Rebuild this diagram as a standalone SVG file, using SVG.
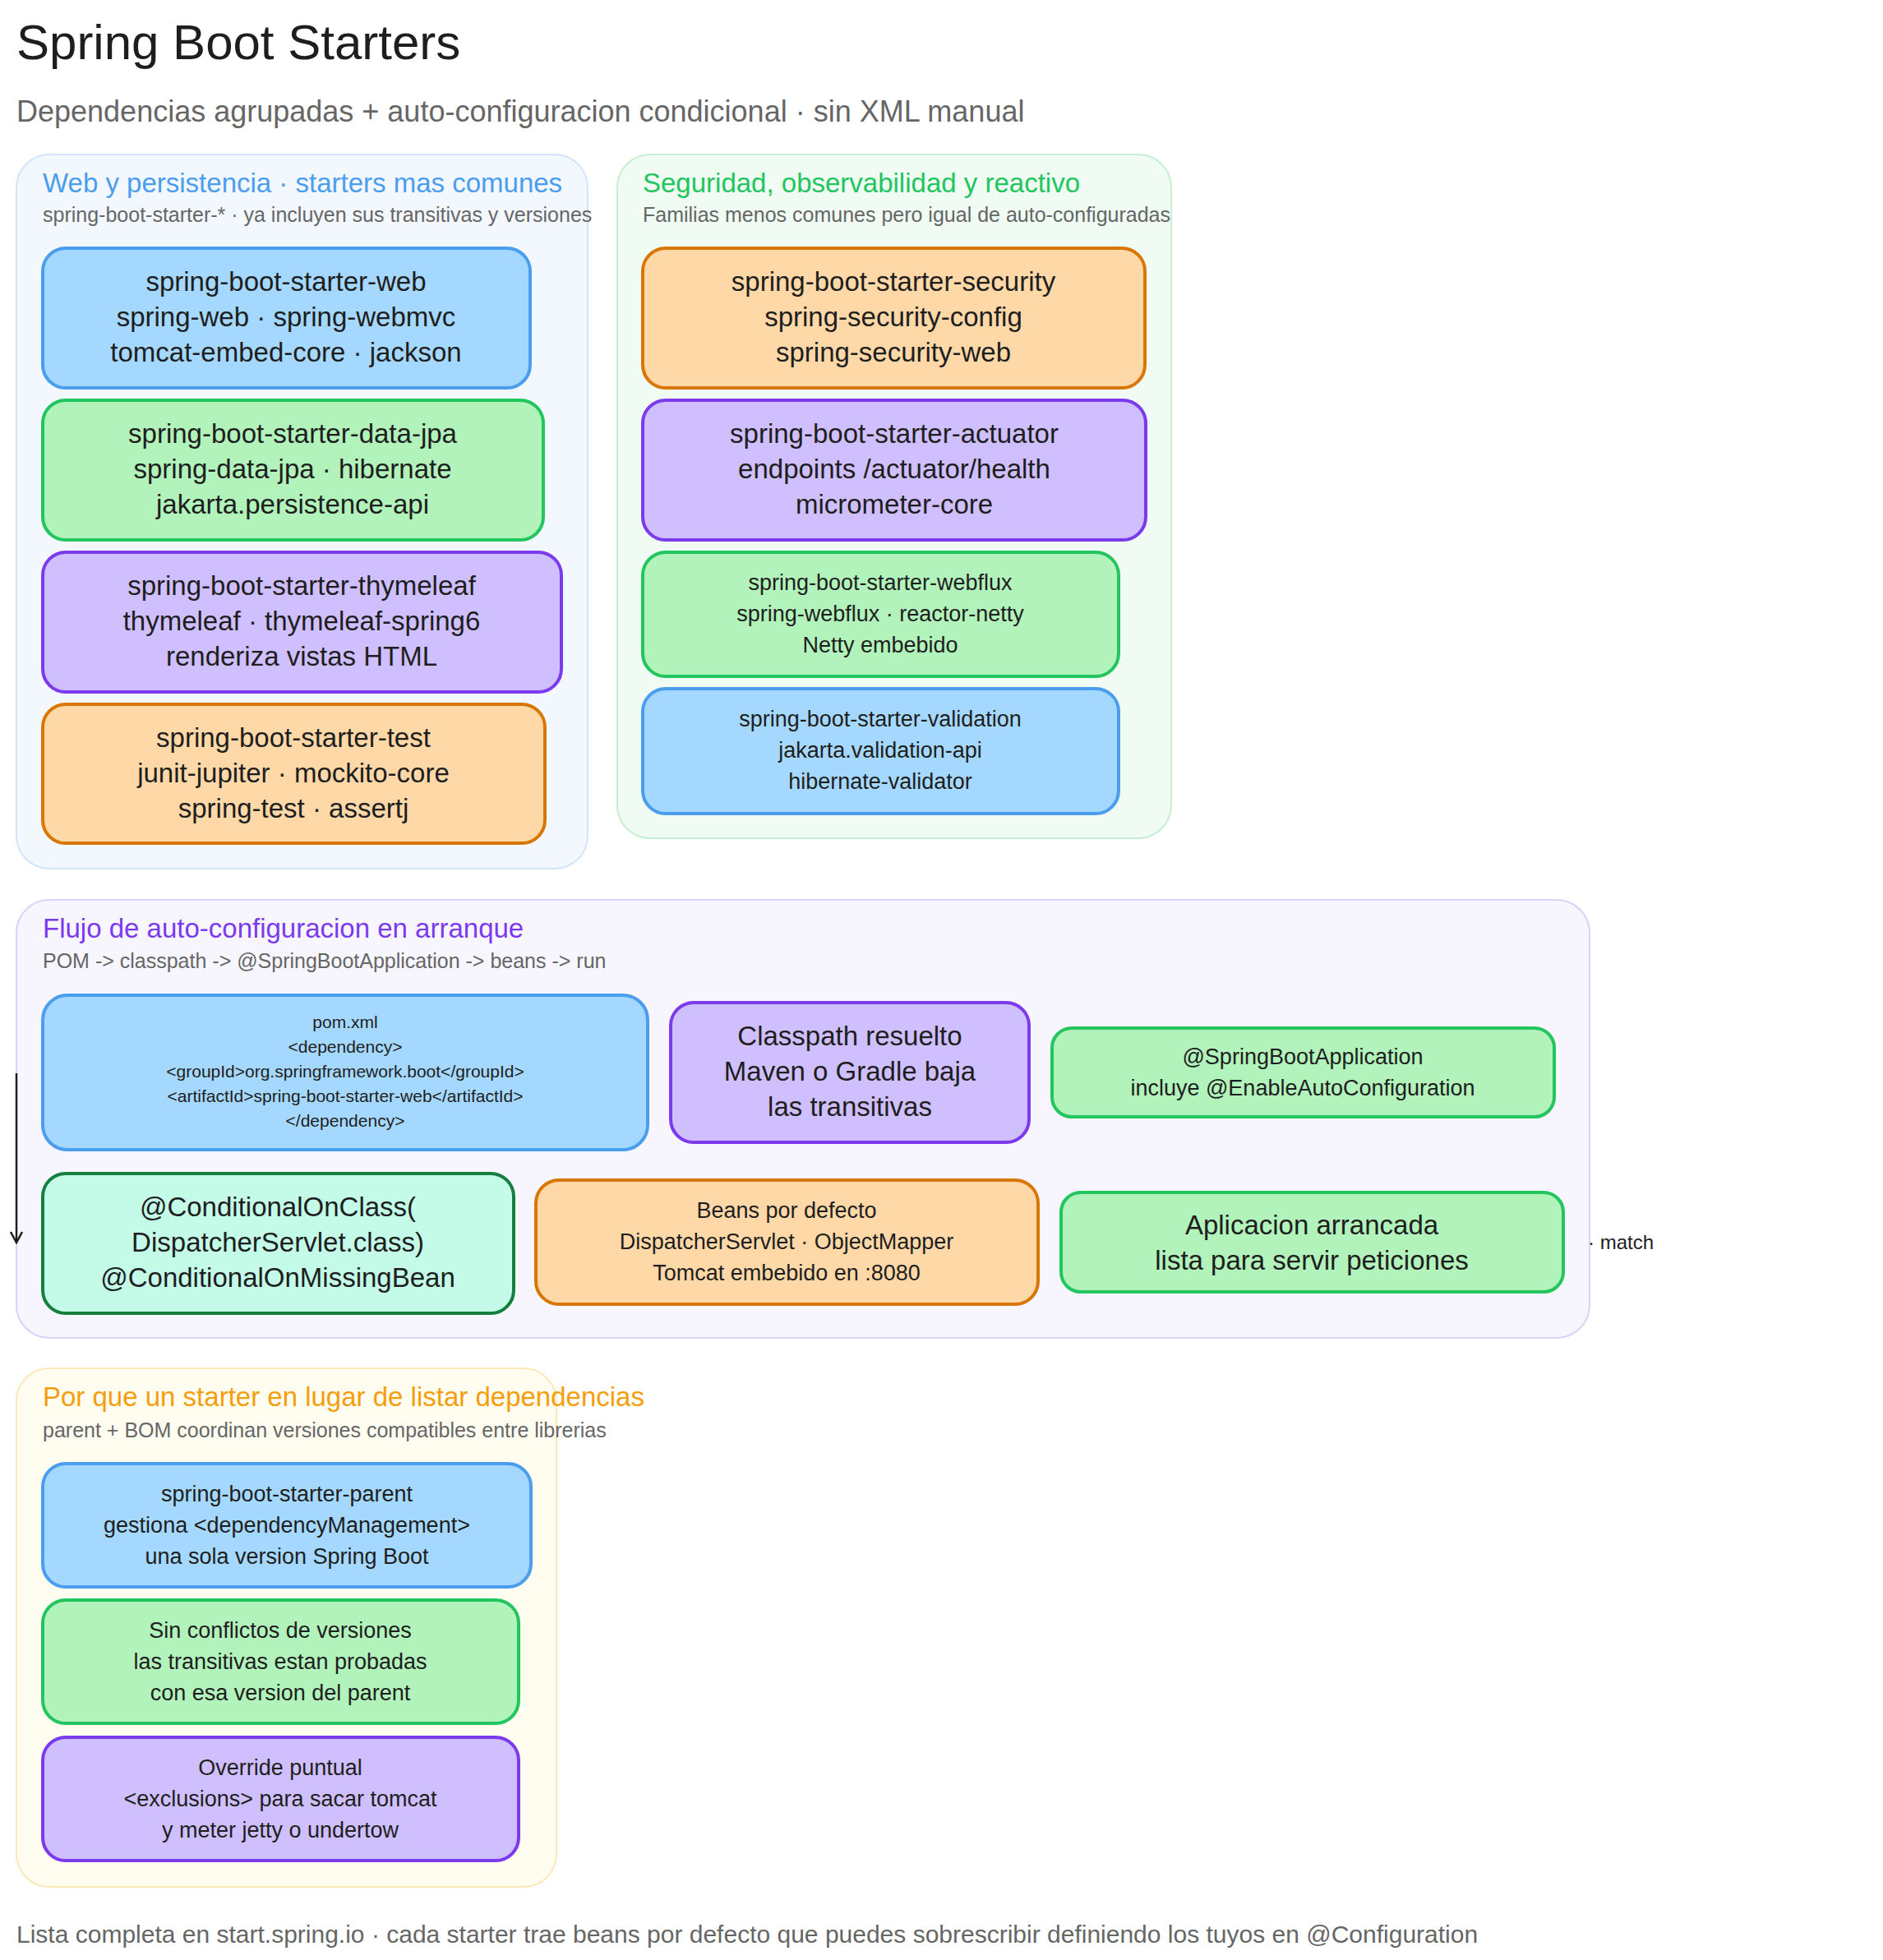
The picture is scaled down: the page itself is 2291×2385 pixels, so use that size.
<svg xmlns="http://www.w3.org/2000/svg" width="2291" height="2385" viewBox="0 0 2291 2385">
<style>
text{font-family:"Liberation Sans",Arial,sans-serif;fill:#1e1e1e}
.t{font-size:33px;text-anchor:middle}
.s{font-size:27px;text-anchor:middle}
.xs{font-size:21px;text-anchor:middle}
.gt{font-size:33px}
.gs{font-size:25px;fill:#666}
.n{stroke-width:4}
.blue{fill:#a5d8ff;stroke:#4a9eed}
.green{fill:#b2f2bb;stroke:#22c55e}
.purple{fill:#d0bfff;stroke:#7c3aed}
.orange{fill:#ffd8a8;stroke:#d97706}
.teal{fill:#c3fae8;stroke:#15803d}
.g{stroke-width:2}
</style>
<defs><marker id="ah" markerWidth="16" markerHeight="16" refX="14" refY="8" orient="auto" markerUnits="userSpaceOnUse"><path d="M1,1 L14,8 L1,15" fill="none" stroke="#1e1e1e" stroke-width="2.5"/></marker></defs>
<rect width="2291" height="2385" fill="#fff"/>
<text x="20" y="72" style="font-size:60px">Spring Boot Starters</text>
<text x="20" y="148" style="font-size:36px;fill:#666">Dependencias agrupadas + auto-configuracion condicional · sin XML manual</text>

<g id="group-web"><rect x="20" y="188" width="695" height="869" rx="40" fill="#f3f7fe" stroke="#d3e5fb" class="g"/>
<text x="52" y="234" class="gt" style="fill:#4a9eed">Web y persistencia · starters mas comunes</text>
<text x="52" y="270" class="gs">spring-boot-starter-* · ya incluyen sus transitivas y versiones</text></g>
<g id="group-sec"><rect x="751" y="188" width="674" height="832" rx="40" fill="#f0fbf3" stroke="#c6efd2" class="g"/>
<text x="782" y="234" class="gt" style="fill:#22c55e">Seguridad, observabilidad y reactivo</text>
<text x="782" y="270" class="gs">Familias menos comunes pero igual de auto-configuradas</text></g>
<g id="group-flow"><rect x="20" y="1095" width="1914" height="533" rx="40" fill="#f7f5fe" stroke="#ddd0fb" class="g"/>
<text x="52" y="1141" class="gt" style="fill:#7c3aed">Flujo de auto-configuracion en arranque</text>
<text x="52" y="1178" class="gs">POM -&gt; classpath -&gt; @SpringBootApplication -&gt; beans -&gt; run</text></g>
<g id="group-why"><rect x="20" y="1665" width="657" height="631" rx="40" fill="#fffcf0" stroke="#fde8b8" class="g"/>
<text x="52" y="1711" class="gt" style="fill:#f59e0b">Por que un starter en lugar de listar dependencias</text>
<text x="52" y="1749" class="gs">parent + BOM coordinan versiones compatibles entre librerias</text></g>

<g id="n-web"><rect x="52" y="302" width="593" height="170" rx="28" class="n blue"/>
<text class="t" x="348" y="354">spring-boot-starter-web</text><text class="t" x="348" y="397">spring-web · spring-webmvc</text><text class="t" x="348" y="440">tomcat-embed-core · jackson</text></g>
<g id="n-jpa"><rect x="52" y="487" width="609" height="170" rx="28" class="n green"/>
<text class="t" x="356" y="539">spring-boot-starter-data-jpa</text><text class="t" x="356" y="582">spring-data-jpa · hibernate</text><text class="t" x="356" y="625">jakarta.persistence-api</text></g>
<g id="n-thy"><rect x="52" y="672" width="631" height="170" rx="28" class="n purple"/>
<text class="t" x="367" y="724">spring-boot-starter-thymeleaf</text><text class="t" x="367" y="767">thymeleaf · thymeleaf-spring6</text><text class="t" x="367" y="810">renderiza vistas HTML</text></g>
<g id="n-test"><rect x="52" y="857" width="611" height="169" rx="28" class="n orange"/>
<text class="t" x="357" y="909">spring-boot-starter-test</text><text class="t" x="357" y="952">junit-jupiter · mockito-core</text><text class="t" x="357" y="995">spring-test · assertj</text></g>

<g id="n-sec"><rect x="782" y="302" width="611" height="170" rx="28" class="n orange"/>
<text class="t" x="1087" y="354">spring-boot-starter-security</text><text class="t" x="1087" y="397">spring-security-config</text><text class="t" x="1087" y="440">spring-security-web</text></g>
<g id="n-act"><rect x="782" y="487" width="612" height="170" rx="28" class="n purple"/>
<text class="t" x="1088" y="539">spring-boot-starter-actuator</text><text class="t" x="1088" y="582">endpoints /actuator/health</text><text class="t" x="1088" y="625">micrometer-core</text></g>
<g id="n-flux"><rect x="782" y="672" width="579" height="151" rx="28" class="n green"/>
<text class="s" x="1071" y="718">spring-boot-starter-webflux</text><text class="s" x="1071" y="756">spring-webflux · reactor-netty</text><text class="s" x="1071" y="794">Netty embebido</text></g>
<g id="n-val"><rect x="782" y="838" width="579" height="152" rx="28" class="n blue"/>
<text class="s" x="1071" y="884">spring-boot-starter-validation</text><text class="s" x="1071" y="922">jakarta.validation-api</text><text class="s" x="1071" y="960">hibernate-validator</text></g>

<g id="n-pom"><rect x="52" y="1211" width="736" height="188" rx="30" class="n blue"/>
<text class="xs" x="420" y="1251">pom.xml</text><text class="xs" x="420" y="1281">&lt;dependency&gt;</text><text class="xs" x="420" y="1311">&lt;groupId&gt;org.springframework.boot&lt;/groupId&gt;</text><text class="xs" x="420" y="1341">&lt;artifactId&gt;spring-boot-starter-web&lt;/artifactId&gt;</text><text class="xs" x="420" y="1371">&lt;/dependency&gt;</text></g>
<g id="n-cp"><rect x="816" y="1220" width="436" height="170" rx="28" class="n purple"/>
<text class="t" x="1034" y="1272">Classpath resuelto</text><text class="t" x="1034" y="1315">Maven o Gradle baja</text><text class="t" x="1034" y="1358">las transitivas</text></g>
<g id="n-sba"><rect x="1280" y="1251" width="611" height="108" rx="24" class="n green"/>
<text class="s" x="1585" y="1295">@SpringBootApplication</text><text class="s" x="1585" y="1333">incluye @EnableAutoConfiguration</text></g>
<g id="n-cond"><rect x="52" y="1428" width="573" height="170" rx="28" class="n teal"/>
<text class="t" x="338" y="1480">@ConditionalOnClass(</text><text class="t" x="338" y="1523">DispatcherServlet.class)</text><text class="t" x="338" y="1566">@ConditionalOnMissingBean</text></g>
<g id="n-beans"><rect x="652" y="1436" width="611" height="151" rx="28" class="n orange"/>
<text class="s" x="957" y="1482">Beans por defecto</text><text class="s" x="957" y="1520">DispatcherServlet · ObjectMapper</text><text class="s" x="957" y="1558">Tomcat embebido en :8080</text></g>
<g id="n-app"><rect x="1291" y="1451" width="611" height="121" rx="24" class="n green"/>
<text class="t" x="1596" y="1502">Aplicacion arrancada</text><text class="t" x="1596" y="1545">lista para servir peticiones</text></g>

<g id="n-parent"><rect x="52" y="1781" width="594" height="150" rx="28" class="n blue"/>
<text class="s" x="349" y="1827">spring-boot-starter-parent</text><text class="s" x="349" y="1865">gestiona &lt;dependencyManagement&gt;</text><text class="s" x="349" y="1903">una sola version Spring Boot</text></g>
<g id="n-noconf"><rect x="52" y="1947" width="579" height="150" rx="28" class="n green"/>
<text class="s" x="341" y="1993">Sin conflictos de versiones</text><text class="s" x="341" y="2031">las transitivas estan probadas</text><text class="s" x="341" y="2069">con esa version del parent</text></g>
<g id="n-over"><rect x="52" y="2114" width="579" height="150" rx="28" class="n purple"/>
<text class="s" x="341" y="2160">Override puntual</text><text class="s" x="341" y="2198">&lt;exclusions&gt; para sacar tomcat</text><text class="s" x="341" y="2236">y meter jetty o undertow</text></g>

<g id="connectors">
<line x1="20" y1="1306" x2="20" y2="1512" stroke="#1e1e1e" stroke-width="2.5" marker-end="url(#ah)"/>
<text x="1932" y="1520" style="font-size:24px">· match</text>
</g>
<text x="20" y="2364" style="font-size:30px;fill:#666">Lista completa en start.spring.io · cada starter trae beans por defecto que puedes sobrescribir definiendo los tuyos en @Configuration</text>
</svg>
